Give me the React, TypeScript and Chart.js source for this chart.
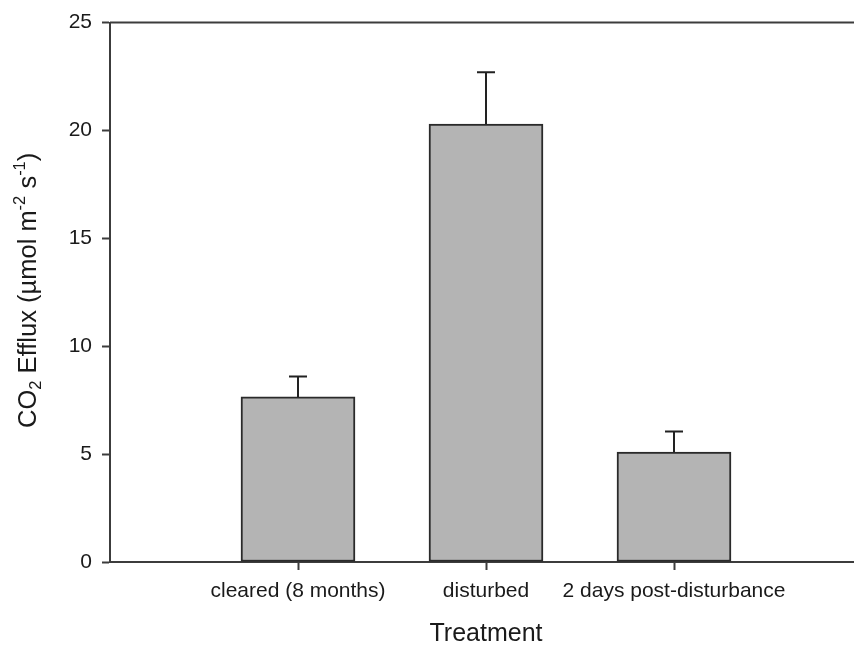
import React, { useEffect, useRef } from "react";
import { Chart, registerables } from "chart.js";

Chart.register(...registerables);

const categories = ["cleared (8 months)", "disturbed", "2 days post-disturbance"];
const positions = [1, 2, 3];
const means = [7.65, 20.3, 5.1];
const errUpper = [0.95, 2.4, 0.95];
const yTicks = [0, 5, 10, 15, 20, 25];
const xTitle = "Treatment";
const yTitleParts: { t: string; k: "n" | "sub" | "sup" }[] = [
  { t: "CO", k: "n" },
  { t: "2", k: "sub" },
  { t: " Efflux (\u00B5mol m", k: "n" },
  { t: "-2", k: "sup" },
  { t: " s", k: "n" },
  { t: "-1", k: "sup" },
  { t: ")", k: "n" },
];

const FONT = "'Liberation Sans', Arial, Helvetica, sans-serif";
const AXIS = "#3c3c3c";
const TEXT = "#1a1a1a";

const extrasPlugin = {
  id: "extras",
  afterDatasetsDraw(chart: any) {
    const { ctx, chartArea, scales } = chart;
    const xs = scales.x;
    const ys = scales.y;
    ctx.save();
    // error bars (upper only)
    ctx.strokeStyle = "#222";
    ctx.lineWidth = 2;
    positions.forEach((p, i) => {
      const px = Math.round(xs.getPixelForValue(p));
      const y0 = ys.getPixelForValue(means[i]);
      const y1 = ys.getPixelForValue(means[i] + errUpper[i]);
      ctx.beginPath();
      ctx.moveTo(px, y0);
      ctx.lineTo(px, y1);
      ctx.moveTo(px - 9, y1);
      ctx.lineTo(px + 9, y1);
      ctx.stroke();
    });
    // top frame line
    ctx.strokeStyle = AXIS;
    ctx.lineWidth = 2;
    ctx.beginPath();
    ctx.moveTo(chartArea.left, chartArea.top);
    ctx.lineTo(chartArea.right, chartArea.top);
    ctx.stroke();
    // y title with sub/superscripts
    const big = `25.5px ${FONT}`;
    const small = `16.5px ${FONT}`;
    let total = 0;
    yTitleParts.forEach((p) => {
      ctx.font = p.k === "n" ? big : small;
      total += ctx.measureText(p.t).width;
    });
    const cy = (chartArea.top + chartArea.bottom) / 2 - 2;
    ctx.translate(36, cy);
    ctx.rotate(-Math.PI / 2);
    ctx.fillStyle = TEXT;
    ctx.textBaseline = "alphabetic";
    ctx.textAlign = "left";
    let x = -total / 2;
    yTitleParts.forEach((p) => {
      ctx.font = p.k === "n" ? big : small;
      const dy = p.k === "sub" ? 5 : p.k === "sup" ? -11 : 0;
      ctx.fillText(p.t, x, dy);
      x += ctx.measureText(p.t).width;
    });
    ctx.restore();
  },
};

export default function App() {
  const ref = useRef<HTMLCanvasElement | null>(null);
  useEffect(() => {
    if (!ref.current) return;
    const chart = new Chart(ref.current, {
      type: "bar",
      data: {
        datasets: [
          {
            data: positions.map((p, i) => ({ x: p, y: means[i] })),
            backgroundColor: "#b4b4b4",
            borderColor: "#2a2a2a",
            borderWidth: 2,
            borderSkipped: false,
            barThickness: 114,
          },
        ],
      },
      options: {
        responsive: false,
        animation: false,
        layout: { padding: { top: 21, left: 0, right: 0, bottom: 0 } },
        plugins: { legend: { display: false }, tooltip: { enabled: false } },
        scales: {
          x: {
            type: "linear",
            min: 0,
            max: 4,
            offset: false,
            position: "bottom",
            afterBuildTicks: (s: any) => {
              s.ticks = positions.map((v) => ({ value: v }));
            },
            afterFit: (s: any) => {
              s.height = 85;
            },
            ticks: {
              autoSkip: false,
              maxRotation: 0,
              padding: 9,
              color: TEXT,
              font: { family: FONT, size: 21 },
              callback: (v: any) => categories[positions.indexOf(Number(v))] ?? "",
            },
            grid: {
              offset: false,
              drawOnChartArea: false,
              drawTicks: true,
              tickLength: 8,
              tickWidth: 2,
              tickColor: AXIS,
            },
            border: { display: true, color: AXIS, width: 2 },
            title: {
              display: true,
              text: xTitle,
              color: TEXT,
              font: { family: FONT, size: 25, lineHeight: 1 },
              padding: { top: 0, bottom: 0 },
            },
          },
          y: {
            type: "linear",
            min: 0,
            max: 25,
            afterBuildTicks: (s: any) => {
              s.ticks = yTicks.map((v) => ({ value: v }));
            },
            afterFit: (s: any) => {
              s.width = 110;
            },
            ticks: {
              padding: 10,
              color: TEXT,
              font: { family: FONT, size: 21 },
            },
            grid: {
              drawOnChartArea: false,
              drawTicks: true,
              tickLength: 8,
              tickWidth: 2,
              tickColor: AXIS,
            },
            border: { display: true, color: AXIS, width: 2 },
          },
        },
      },
      plugins: [extrasPlugin],
    } as any);
    return () => chart.destroy();
  }, []);
  return (
    <div
      style={{
        position: "absolute",
        left: 0,
        top: 0,
        width: 854,
        height: 647,
        overflow: "hidden",
        background: "#fff",
      }}
    >
      <canvas ref={ref} width={862} height={647} style={{ display: "block" }} />
    </div>
  );
}
